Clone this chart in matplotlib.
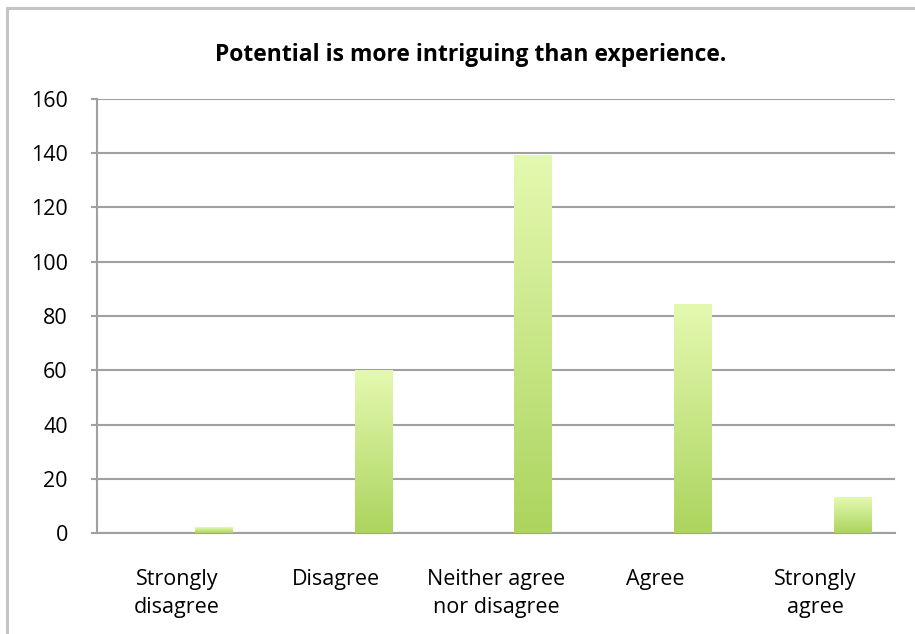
import numpy as np
import matplotlib
matplotlib.use("Agg")
import matplotlib.pyplot as plt
from matplotlib.colors import LinearSegmentedColormap
from matplotlib.patches import Rectangle

plt.rcParams['font.family'] = ['Open Sans', 'DejaVu Sans']

# data
categories = ["Strongly\ndisagree", "Disagree", "Neither agree\nnor disagree", "Agree", "Strongly\nagree"]
counts = [2, 60, 139, 84, 13]
yticks = [0, 20, 40, 60, 80, 100, 120, 140, 160]

fig = plt.figure(figsize=(9.15, 6.34), dpi=100)
ax = fig.add_axes([0.106, 0.159, 0.872, 0.685])

# outer chart frame (cut off at right/bottom like the reference)
fig.patches.append(Rectangle((0.008, -0.1), 1.2, 1.087, transform=fig.transFigure,
                             fill=False, edgecolor="#c4c4c4", linewidth=2.2))

x = np.arange(len(categories))
w = 0.232
grad = LinearSegmentedColormap.from_list("g", ["#acd45e", "#e4f9b0"])
g = np.linspace(0, 1, 256).reshape(-1, 1)
for xi, v in zip(x, counts):
    left = xi + w / 2
    ax.imshow(g, cmap=grad, origin="lower", aspect="auto",
              extent=(left, left + w, 0, v), zorder=3)

ax.set_xlim(-0.5, len(categories) - 0.5)
ax.set_ylim(0, 160)
ax.set_yticks(yticks)
ax.set_xticks(x)
ax.set_xticklabels(categories, fontsize=15.5, linespacing=1.4)
ax.tick_params(axis="x", length=0, pad=26)
ax.tick_params(axis="y", length=4, color="#a0a0a0", width=1.5, labelsize=15.5, pad=17)
ax.grid(axis="y", color="#a0a0a0", linewidth=1.5, zorder=0)
ax.set_axisbelow(True)
for s in ["top", "right"]:
    ax.spines[s].set_visible(False)
for s in ["left", "bottom"]:
    ax.spines[s].set_color("#a0a0a0")
    ax.spines[s].set_linewidth(1.5)

fig.text(0.514, 0.914, "Potential is more intriguing than experience.",
         ha="center", va="center", fontsize=16.5, fontweight="bold")

plt.savefig("out.png", dpi=100)
